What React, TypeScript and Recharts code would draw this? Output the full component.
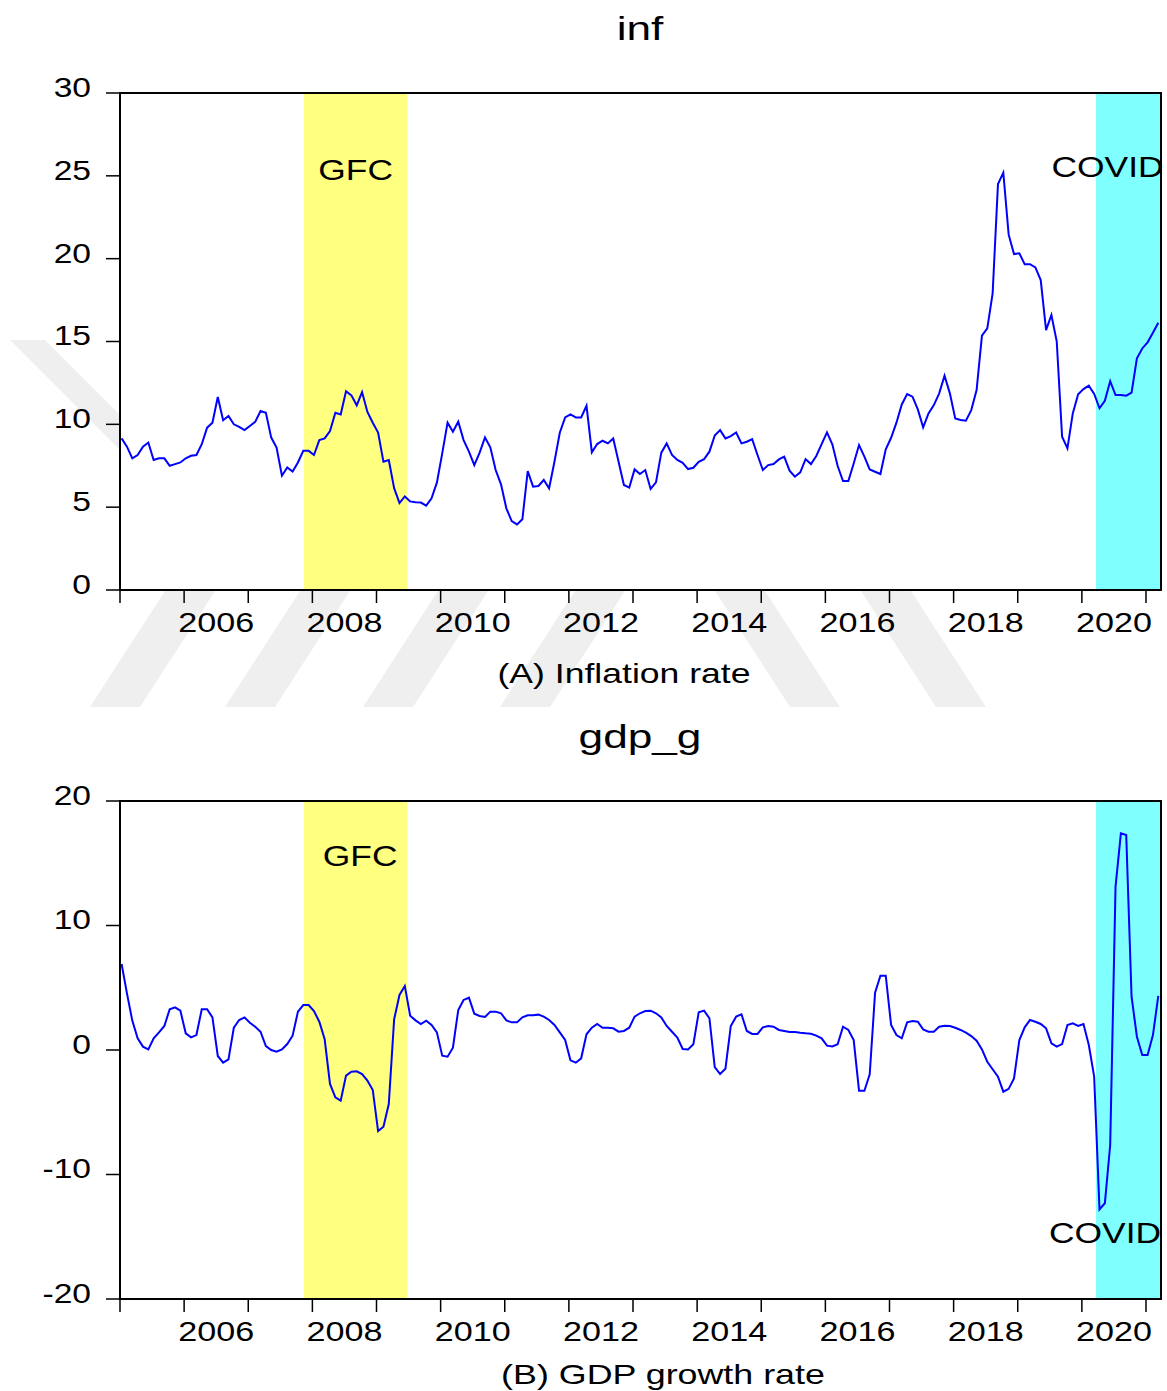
import { LineChart, Line, XAxis, YAxis, ReferenceArea } from 'recharts';

// monthly observations, 2005M01 .. 2021M03
const startYear = 2005;

const infValues = [
  9.15, 8.65, 7.95, 8.15, 8.65, 8.9, 7.85, 7.95, 7.95, 7.5, 7.6, 7.7,
  7.95, 8.1, 8.15, 8.8, 9.8, 10.1, 11.65, 10.25, 10.5, 10.0, 9.85, 9.65,
  9.9, 10.15, 10.8, 10.7, 9.2, 8.6, 6.9, 7.4, 7.15, 7.7, 8.4, 8.4,
  8.15, 9.05, 9.15, 9.6, 10.7, 10.6, 12.0, 11.75, 11.15, 11.95, 10.75, 10.1,
  9.5, 7.75, 7.85, 6.15, 5.25, 5.65, 5.35, 5.3, 5.28, 5.09, 5.53, 6.48,
  8.25, 10.1, 9.55, 10.16, 9.05, 8.35, 7.54, 8.29, 9.21, 8.61, 7.24, 6.38,
  4.93, 4.16, 3.96, 4.27, 7.18, 6.24, 6.28, 6.64, 6.14, 7.74, 9.49, 10.42,
  10.6, 10.42, 10.42, 11.12, 8.31, 8.81, 9.01, 8.85, 9.15, 7.74, 6.34, 6.18,
  7.28, 7.0, 7.24, 6.1, 6.5, 8.29, 8.85, 8.15, 7.85, 7.68, 7.3, 7.38,
  7.74, 7.9, 8.35, 9.33, 9.65, 9.15, 9.29, 9.51, 8.85, 8.95, 9.11, 8.15,
  7.24, 7.54, 7.6, 7.88, 8.05, 7.2, 6.84, 7.1, 7.9, 7.6, 8.09, 8.81,
  9.51, 8.79, 7.48, 6.58, 6.58, 7.64, 8.75, 8.05, 7.28, 7.14, 7.0, 8.49,
  9.19, 10.1, 11.2, 11.83, 11.67, 10.9, 9.82, 10.66, 11.16, 11.87, 12.93, 11.87,
  10.36, 10.26, 10.22, 10.86, 12.07, 15.35, 15.79, 17.9, 24.5, 25.19, 21.45, 20.28,
  20.32, 19.67, 19.67, 19.47, 18.71, 15.69, 16.6, 14.99, 9.25, 8.55, 10.66, 11.81,
  12.13, 12.33, 11.83, 10.97, 11.42, 12.61, 11.77, 11.77, 11.73, 11.91, 13.98, 14.58,
  14.95, 15.53, 16.13,
];

const gdpValues = [
  6.91, 4.55, 2.36, 0.94, 0.27, 0.05, 0.94, 1.42, 1.93, 3.27, 3.43, 3.16,
  1.34, 1.02, 1.2, 3.27, 3.27, 2.62, -0.48, -1.02, -0.75, 1.79, 2.41, 2.62,
  2.19, 1.87, 1.47, 0.32, 0.0, -0.13, 0.05, 0.48, 1.15, 3.08, 3.61, 3.61,
  3.13, 2.27, 0.86, -2.73, -3.8, -4.07, -2.06, -1.74, -1.71, -1.93, -2.46, -3.21,
  -6.51, -6.16, -4.34, 2.46, 4.42, 5.14, 2.76, 2.38, 2.09, 2.36, 2.01, 1.42,
  -0.46, -0.54, 0.19, 3.21, 4.02, 4.2, 2.92, 2.73, 2.65, 3.08, 3.08, 2.95,
  2.38, 2.22, 2.22, 2.62, 2.79, 2.79, 2.84, 2.68, 2.41, 2.01, 1.42, 0.8,
  -0.83, -1.02, -0.67, 1.26, 1.79, 2.09, 1.79, 1.79, 1.74, 1.47, 1.53, 1.79,
  2.68, 2.95, 3.13, 3.16, 2.95, 2.62, 1.93, 1.47, 0.99, 0.08, 0.05, 0.46,
  3.03, 3.16, 2.55, -1.37, -1.93, -1.5, 1.93, 2.68, 2.87, 1.53, 1.29, 1.29,
  1.82, 1.93, 1.87, 1.61, 1.53, 1.45, 1.45, 1.39, 1.34, 1.31, 1.15, 0.94,
  0.35, 0.29, 0.46, 1.87, 1.61, 0.8, -3.27, -3.27, -1.96, 4.6, 5.97, 5.97,
  2.01, 1.2, 0.94, 2.22, 2.33, 2.27, 1.66, 1.47, 1.47, 1.87, 1.95, 1.93,
  1.79, 1.61, 1.39, 1.12, 0.75, 0.05, -0.94, -1.55, -2.14, -3.35, -3.12, -2.28,
  0.8, 1.82, 2.41, 2.27, 2.09, 1.74, 0.54, 0.27, 0.48, 2.01, 2.14, 1.93,
  2.09, 0.4, -2.14, -12.8, -12.31, -7.63, 13.12, 17.4, 17.27, 4.28, 1.07, -0.4,
  -0.4, 1.2, 4.34,
];

const yearTicks = [2005, 2006, 2007, 2008, 2009, 2010, 2011, 2012, 2013, 2014, 2015, 2016, 2017, 2018, 2019, 2020, 2021];
const yearLabels = [2006, 2008, 2010, 2012, 2014, 2016, 2018, 2020];
const infTicks = [0, 5, 10, 15, 20, 25, 30];
const gdpTicks = [-20, -10, 0, 10, 20];

// shaded episodes (fractional years)
const gfcPeriod = [2007.87, 2009.48];
const covidPeriod = [2020.22, 2021.234];
const xDomain = [2005, 2021.234];

const toTime = (i: number) => startYear + (i + 0.3) / 12;
const infData = infValues.map((v, i) => ({ t: toTime(i), v }));
const gdpData = gdpValues.map((v, i) => ({ t: toTime(i), v }));

const FONT = '"Liberation Sans", Arial, Helvetica, sans-serif';

function NoLabel() {
  return null;
}

function XLabel({ x, y, payload }: any) {
  return (
    <text transform={`translate(${x},${y}) scale(1.22,1)`} textAnchor="middle" dy="0.71em"
      fontSize={28} fontFamily={FONT} fill="#000">
      {Math.floor(payload.value)}
    </text>
  );
}

function YLabel({ x, y, payload }: any) {
  return (
    <text transform={`translate(${x},${y - 6}) scale(1.2,1)`} textAnchor="end" dy="0.355em"
      fontSize={28} fontFamily={FONT} fill="#000">
      {payload.value}
    </text>
  );
}

const shadeLabel = (text: string, dx: number, dy: number) => (props: any) => {
  const vb = props.viewBox;
  if (!vb) return null;
  return (
    <text transform={`translate(${vb.x + vb.width / 2 + dx},${vb.y + dy}) scale(1.18,1)`}
      textAnchor="middle" fontSize={30} fontFamily={FONT} fill="#000">
      {text}
    </text>
  );
};

function Panel({ data, yDomain, yTicks, height, bottom, gfcLabelPos, covidLabelPos }: any) {
  return (
    <LineChart width={1167} height={height} data={data}
      margin={{ top: 93, right: 6, left: 0, bottom }}>
      <XAxis dataKey="t" type="number" domain={xDomain} ticks={yearTicks} allowDataOverflow
        tick={<NoLabel />} tickSize={13} height={1} axisLine={false} interval={0}
        tickLine={{ stroke: '#000', strokeWidth: 1.5 }} />
      <XAxis xAxisId="lbl" dataKey="t" type="number" domain={xDomain} allowDataOverflow
        ticks={yearLabels.map((y) => y + 0.5)} tick={<XLabel />} tickSize={0} tickMargin={21}
        height={1} axisLine={false} tickLine={false} interval={0} />
      <YAxis type="number" domain={yDomain} ticks={yTicks} width={120} interval={0}
        tickSize={14} tickMargin={15} axisLine={false} tick={<YLabel />}
        tickLine={{ stroke: '#000', strokeWidth: 1.5 }} />
      <ReferenceArea x1={xDomain[0]} x2={xDomain[1]} y1={yDomain[0]} y2={yDomain[1]}
        fill="#ffffff" fillOpacity={1} stroke="none" />
      <ReferenceArea x1={gfcPeriod[0]} x2={gfcPeriod[1]} y1={yDomain[0]} y2={yDomain[1]}
        fill="#ffff80" fillOpacity={1} stroke="none"
        label={shadeLabel('GFC', gfcLabelPos[0], gfcLabelPos[1])} />
      <ReferenceArea x1={covidPeriod[0]} x2={covidPeriod[1]} y1={yDomain[0]} y2={yDomain[1]}
        fill="#80ffff" fillOpacity={1} stroke="none"
        label={shadeLabel('COVID', covidLabelPos[0], covidLabelPos[1])} />
      <Line type="linear" dataKey="v" stroke="#0000ff" strokeWidth={2} dot={false}
        activeDot={false} isAnimationActive={false} />
      <ReferenceArea x1={xDomain[0]} x2={xDomain[1]} y1={yDomain[0]} y2={yDomain[1]}
        fill="none" stroke="#000" strokeWidth={2} />
    </LineChart>
  );
}

// faint diagonal watermark stripes behind the figure
const stripesUp = [90, 225, 363, 500];
const stripesDown = [790, 936];

export default function App() {
  const textProps = { fontFamily: FONT, fill: '#000' };
  return (
    <div style={{ position: 'absolute', left: 0, top: 0, width: 1167, height: 1391, background: '#fff', overflow: 'hidden' }}>
      <svg width={1167} height={1391} style={{ position: 'absolute', left: 0, top: 0 }}>
        <polygon points="10,340 45,340 225,520 190,520" fill="#efefef" />
        {stripesUp.map((a) => (
          <polygon key={a} points={`${a},707 ${a + 50},707 ${a + 145},560 ${a + 95},560`} fill="#efefef" />
        ))}
        {stripesDown.map((a) => (
          <polygon key={a} points={`${a},707 ${a + 50},707 ${a - 45},560 ${a - 95},560`} fill="#efefef" />
        ))}
        <text transform="translate(640,40) scale(1.3,1)" textAnchor="middle" fontSize={34} {...textProps}>inf</text>
        <text transform="translate(624,683) scale(1.27,1)" textAnchor="middle" fontSize={28} {...textProps}>(A) Inflation rate</text>
        <text transform="translate(640,748) scale(1.3,1)" textAnchor="middle" fontSize={34} {...textProps}>gdp_g</text>
        <text transform="translate(663,1384) scale(1.28,1)" textAnchor="middle" fontSize={28} {...textProps}>(B) GDP growth rate</text>
      </svg>
      <div style={{ position: 'absolute', left: 0, top: 0 }}>
        <Panel data={infData} yDomain={[0, 30]} yTicks={infTicks} height={700} bottom={108}
          gfcLabelPos={[0, 87]} covidLabelPos={[-21, 84]} />
      </div>
      <div style={{ position: 'absolute', left: 0, top: 708 }}>
        <Panel data={gdpData} yDomain={[-20, 20]} yTicks={gdpTicks} height={683} bottom={90}
          gfcLabelPos={[4.5, 65]} covidLabelPos={[-23.5, 442]} />
      </div>
    </div>
  );
}
